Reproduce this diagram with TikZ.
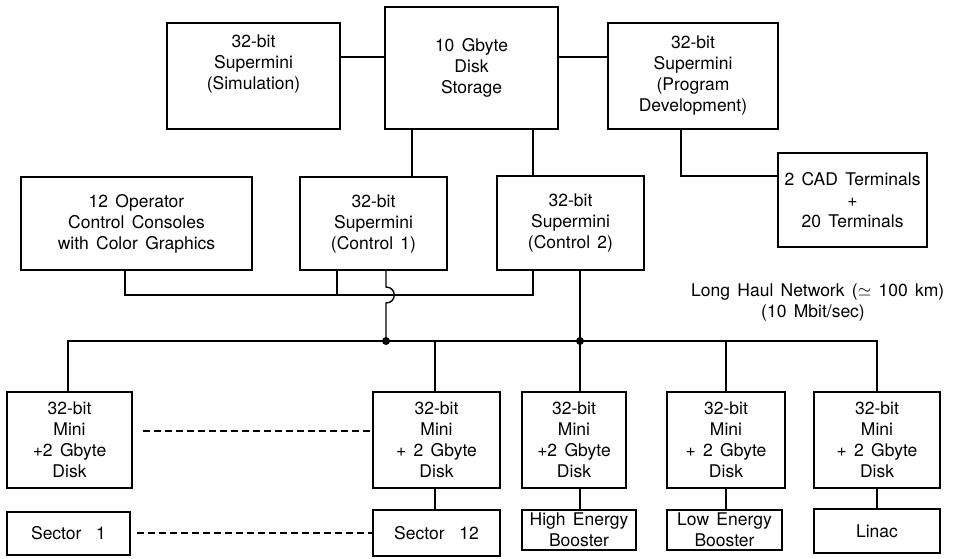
\documentclass[tikz,border=0pt]{standalone}
\usepackage{fontspec}
\setmainfont{TeX Gyre Heros}
\newcommand\dgfont{\fontsize{17.5}{21}\selectfont\spaceskip 0.42em plus 0.1em\relax}
\begin{document}
\begin{tikzpicture}[x=1pt,y=-1pt,line width=1.4pt,
  txt/.style={font=\dgfont},
  box/.style={draw,inner sep=0pt,align=center,txt},
  dsh/.style={dash pattern=on 7pt off 4pt},
  dotc/.style={circle,fill,inner sep=0pt,minimum size=8pt}]
\useasboundingbox (0,0) rectangle (958,559);
% top row
\node[box,minimum width=173pt,minimum height=106pt] (sim) at (253.5,76) {32-bit\\Supermini\\(Simulation)\\[6pt]};
\node[box,minimum width=173pt,minimum height=122pt] (disk) at (471.5,68) {10 Gbyte\\Disk\\Storage};
\node[box,minimum width=170pt,minimum height=106pt] (prog) at (693,76) {32-bit\\Supermini\\(Program\\Development)};
\node[box,minimum width=149pt,minimum height=94pt] (cad) at (852.5,200) {2 CAD Terminals\\+\\20 Terminals};
% second row
\node[box,minimum width=231pt,minimum height=93pt] (oper) at (136.5,223.5) {12 Operator\\Control Consoles\\with Color Graphics};
\node[box,minimum width=147pt,minimum height=93pt] (c1) at (373.5,223.5) {32-bit\\Supermini\\(Control 1)};
\node[box,minimum width=147pt,minimum height=94pt] (c2) at (570.5,223) {32-bit\\Supermini\\(Control 2)};
% minis
\node[box,minimum width=125pt,minimum height=96pt] (m1) at (69.5,440) {32-bit\\Mini\\+2 Gbyte\\Disk};
\node[box,minimum width=127pt,minimum height=96pt] (m12) at (436.5,440) {32-bit\\Mini\\+ 2 Gbyte\\Disk};
\node[box,minimum width=104pt,minimum height=96pt] (mh) at (574,440) {32-bit\\Mini\\+2 Gbyte\\Disk};
\node[box,minimum width=118pt,minimum height=96pt] (ml) at (726,440) {32-bit\\Mini\\+ 2 Gbyte\\Disk};
\node[box,minimum width=126pt,minimum height=96pt] (mlin) at (877,440) {32-bit\\Mini\\+ 2 Gbyte\\Disk};
% bottom boxes
\node[box,minimum width=123pt,minimum height=43pt] (s1) at (68.5,533.5) {Sector\ \ 1};
\node[box,minimum width=127pt,minimum height=46pt] (s12) at (436.5,533) {Sector\ \ 12};
\node[box,minimum width=114pt,minimum height=40pt] (hb) at (579,530) {High Energy\\Booster};
\node[box,minimum width=115pt,minimum height=40pt] (lb) at (724.5,530) {Low Energy\\Booster};
\node[box,minimum width=126pt,minimum height=44pt] (lin) at (877,531) {Linac};
% labels
\node[txt,anchor=east,inner sep=0pt] (lhn) at (945,292) {Long Haul Network ($\simeq$ 100 km)};
\node[txt,inner sep=0pt] (rate) at (813,313) {(10 Mbit/sec)};
% coordinates
\coordinate (busL) at (68,341);
\coordinate (busR) at (877,341);
\coordinate (j1) at (386,341);
\coordinate (j2) at (580,341);
\coordinate (d1) at (143,431);
\coordinate (d2) at (137,533);
% top connections
\draw (sim.east |- 0,57) -- (disk.west |- 0,57);
\draw (disk.east |- 0,57) -- (prog.west |- 0,57);
\draw (disk.south -| 412,0) -- (c1.north -| 412,0);
\draw (disk.south -| 533,0) -- (c2.north -| 533,0);
\draw (prog.south -| 681,0) |- (cad.west |- 0,176);
% console loop
\draw (oper.south -| 125,0) |- (533,295) -- (c2.south -| 533,0);
\draw (c1.south -| 337,0) -- (337,295);
% control 1 to bus with jump
\draw (c1.south -| j1) -- (386,287) .. controls (397,287) and (397,303) .. (386,303) -- (j1);
% control 2 to bus and high energy mini
\draw (c2.south -| j2) -- (mh.north -| j2);
% bus
\draw (m1.north -| busL) -- (busL) -- (busR) -- (mlin.north);
\draw (m12.north -| 435,0) -- (435,341);
\draw (ml.north) -- (ml.north |- busL);
\node[dotc] at (j1) {};
\node[dotc] at (j2) {};
% minis to lower boxes
\draw (m12.south -| 435,0) -- (s12.north -| 435,0);
\draw (mh.south -| j2) -- (hb.north -| j2);
\draw (ml.south) -- (lb.north -| ml.south);
\draw (mlin.south) -- (lin.north);
% dashed
\draw[dsh] (d1) -- (d1 -| m12.west);
\draw[dsh] (d2) -- (d2 -| s12.west);
\end{tikzpicture}
\end{document}
